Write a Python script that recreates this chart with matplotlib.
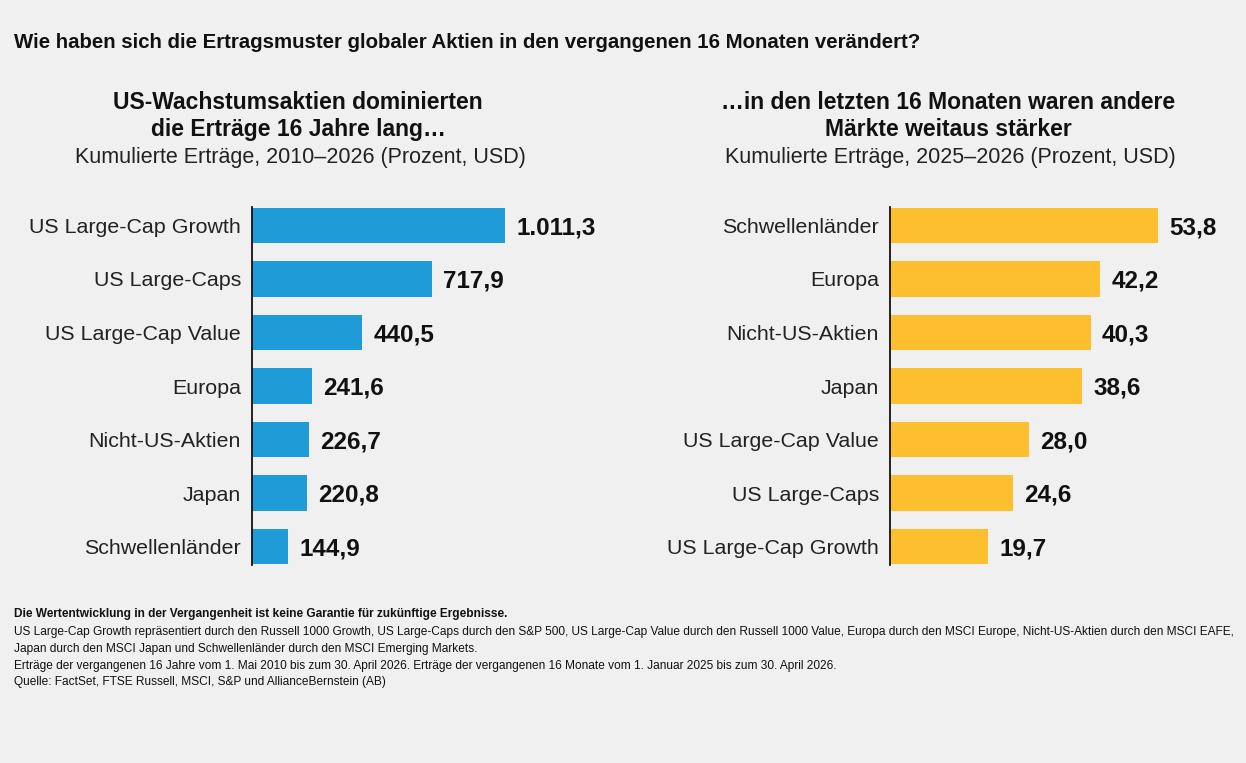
import matplotlib
matplotlib.use('Agg')
import matplotlib.pyplot as plt

# Data
left_cats = ['US Large-Cap Growth', 'US Large-Caps', 'US Large-Cap Value', 'Europa',
             'Nicht-US-Aktien', 'Japan', 'Schwellenländer']
left_vals = [1011.3, 717.9, 440.5, 241.6, 226.7, 220.8, 144.9]
left_labels = ['1.011,3', '717,9', '440,5', '241,6', '226,7', '220,8', '144,9']

right_cats = ['Schwellenländer', 'Europa', 'Nicht-US-Aktien', 'Japan',
              'US Large-Cap Value', 'US Large-Caps', 'US Large-Cap Growth']
right_vals = [53.8, 42.2, 40.3, 38.6, 28.0, 24.6, 19.7]
right_labels = ['53,8', '42,2', '40,3', '38,6', '28,0', '24,6', '19,7']

bg = '#f0f0f0'
blue = '#1f9bd7'
yellow = '#fdbf2d'
plt.rcParams['font.family'] = ['Liberation Sans', 'DejaVu Sans']

fig = plt.figure(figsize=(12.46, 7.63), dpi=100, facecolor=bg)

def panel(rect, cats, vals, labels, color, xmax):
    ax = fig.add_axes(rect)
    ax.set_facecolor(bg)
    y = list(range(len(cats)))
    ax.barh(y, vals, height=0.66, color=color)
    ax.set_xlim(0, xmax)
    ax.set_ylim(len(cats) - 1 + 0.345, -0.345)
    ax.set_yticks(y)
    ax.set_yticklabels(cats, fontsize=15.4, color='#222222')
    ax.tick_params(axis='y', length=0, pad=8)
    ax.set_xticks([])
    for s in ['top', 'right', 'bottom']:
        ax.spines[s].set_visible(False)
    ax.spines['left'].set_linewidth(1.3)
    ax.spines['left'].set_color('#111111')
    for yi, v, lab in zip(y, vals, labels):
        ax.annotate(lab, (v, yi), xytext=(8, -1.5), textcoords='offset points',
                    va='center', ha='left', fontsize=17.5, fontweight='bold',
                    color='#111111', clip_on=False)
    return ax

panel([252/1246, 1 - 565/763, 253/1246, 358/763], left_cats, left_vals, left_labels, blue, 1011.3)
panel([890/1246, 1 - 565/763, 268/1246, 358/763], right_cats, right_vals, right_labels, yellow, 53.8)

fig.text(14/1246, 1 - 42/763, 'Wie haben sich die Ertragsmuster globaler Aktien in den vergangenen 16 Monaten verändert?',
         fontsize=14.7, fontweight='bold', va='center', ha='left', color='#111111')

fig.text(298/1246, 1 - 116/763, 'US-Wachstumsaktien dominierten\ndie Erträge 16 Jahre lang…',
         fontsize=16.5, fontweight='bold', va='center', ha='center', linespacing=1.25, color='#111111')
fig.text(300/1246, 1 - 158/763, 'Kumulierte Erträge, 2010–2026 (Prozent, USD)',
         fontsize=15.5, va='center', ha='center', color='#222222')
fig.text(948/1246, 1 - 116/763, '…in den letzten 16 Monaten waren andere\nMärkte weitaus stärker',
         fontsize=16.5, fontweight='bold', va='center', ha='center', linespacing=1.25, color='#111111')
fig.text(950/1246, 1 - 158/763, 'Kumulierte Erträge, 2025–2026 (Prozent, USD)',
         fontsize=15.5, va='center', ha='center', color='#222222')

fig.text(14/1246, 1 - 614/763, 'Die Wertentwicklung in der Vergangenheit ist keine Garantie für zukünftige Ergebnisse.',
         fontsize=8.6, fontweight='bold', va='center', ha='left', color='#111111')
notes = [
    'US Large-Cap Growth repräsentiert durch den Russell 1000 Growth, US Large-Caps durch den S&P 500, US Large-Cap Value durch den Russell 1000 Value, Europa durch den MSCI Europe, Nicht-US-Aktien durch den MSCI EAFE,',
    'Japan durch den MSCI Japan und Schwellenländer durch den MSCI Emerging Markets.',
    'Erträge der vergangenen 16 Jahre vom 1. Mai 2010 bis zum 30. April 2026. Erträge der vergangenen 16 Monate vom 1. Januar 2025 bis zum 30. April 2026.',
    'Quelle: FactSet, FTSE Russell, MSCI, S&P und AllianceBernstein (AB)',
]
for i, line in enumerate(notes):
    fig.text(14/1246, 1 - (632 + 16.8 * i)/763, line, fontsize=8.6, va='center', ha='left', color='#111111')

fig.savefig('out.png', dpi=100, facecolor=bg)
